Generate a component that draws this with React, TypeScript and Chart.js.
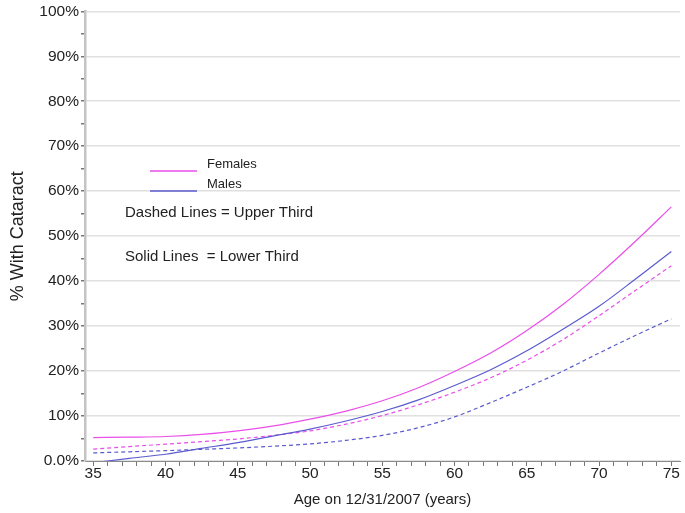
import React, { useEffect, useRef } from "react";
import { Chart, registerables } from "chart.js";

Chart.register(...registerables);

const ages = [35, 37.5, 40, 42.5, 45, 47.5, 50, 52.5, 55, 57.5, 60, 62.5, 65, 67.5, 70, 72.5, 75];
const femalesLower = [5.2, 5.3, 5.45, 5.9, 6.7, 7.8, 9.3, 11.1, 13.4, 16.3, 19.9, 24.0, 29.0, 34.8, 41.5, 48.8, 56.5];
const malesLower = [-0.4, 0.6, 1.5, 2.8, 4.1, 5.6, 7.1, 8.9, 11.0, 13.6, 16.8, 20.3, 24.5, 29.3, 34.4, 40.4, 46.6];
const femalesUpper = [2.65, 3.2, 3.75, 4.3, 4.9, 5.7, 6.7, 8.2, 10.1, 12.5, 15.3, 18.5, 22.4, 27.0, 32.3, 37.9, 43.4];
const malesUpper = [1.8, 2.05, 2.3, 2.6, 2.9, 3.3, 3.8, 4.6, 5.7, 7.4, 9.8, 13.0, 16.4, 20.0, 24.0, 27.9, 31.6];

const xFirstTick = 35;
const xLastTick = 75;
const xLabelEvery = 5;

const legendLabels = ["Females", "Males"];
const noteLines = ["Dashed Lines = Upper Third", "Solid Lines  = Lower Third"];
const xTitle = "Age on 12/31/2007 (years)";
const yTitle = "% With Cataract";

const FEMALE = "#e94fe9";
const MALE = "#5b5bcf";
const FONT = "'Liberation Sans', Arial, sans-serif";

const pts = (vals: number[]) => ages.map((a, i) => ({ x: a, y: vals[i] }));

const notesPlugin = {
  id: "notes",
  afterDatasetsDraw(chart: any) {
    const ctx = chart.ctx;
    ctx.save();
    ctx.lineWidth = 1.6;
    ctx.strokeStyle = FEMALE;
    ctx.beginPath();
    ctx.moveTo(150, 171);
    ctx.lineTo(197, 171);
    ctx.stroke();
    ctx.strokeStyle = MALE;
    ctx.beginPath();
    ctx.moveTo(150, 191);
    ctx.lineTo(197, 191);
    ctx.stroke();
    ctx.fillStyle = "#222";
    ctx.textBaseline = "middle";
    ctx.textAlign = "left";
    ctx.font = `13px ${FONT}`;
    ctx.fillText(legendLabels[0], 207, 164);
    ctx.fillText(legendLabels[1], 207, 184);
    ctx.font = `15px ${FONT}`;
    ctx.fillText(noteLines[0], 125, 213);
    ctx.fillText(noteLines[1], 125, 257);
    ctx.restore();
  },
};

export default function App() {
  const ref = useRef<HTMLCanvasElement>(null);
  useEffect(() => {
    if (!ref.current) return;
    const line = (vals: number[], color: string, dashed: boolean) => ({
      data: pts(vals),
      borderColor: color,
      backgroundColor: color,
      borderWidth: 1.2,
      borderDash: dashed ? [4, 3] : [],
      pointRadius: 0,
      fill: false,
      cubicInterpolationMode: "monotone" as const,
    });
    const chart = new Chart(ref.current, {
      type: "line",
      data: {
        datasets: [
          line(femalesLower, FEMALE, false),
          line(malesLower, MALE, false),
          line(femalesUpper, FEMALE, true),
          line(malesUpper, MALE, true),
        ],
      },
      options: {
        animation: false,
        responsive: false,
        layout: { padding: { top: 6, right: 5, left: 0, bottom: 0 } },
        plugins: { legend: { display: false }, tooltip: { enabled: false } },
        scales: {
          x: {
            type: "linear",
            min: 34.43,
            max: 75.6,
            afterFit: (s: any) => { s.height = 52; },
            afterBuildTicks: (s: any) => {
              const t: any[] = [];
              for (let v = xFirstTick; v <= xLastTick; v++) t.push({ value: v });
              s.ticks = t;
            },
            ticks: {
              stepSize: 1,
              autoSkip: false,
              maxRotation: 0,
              padding: -2,
              color: "#222",
              font: { family: FONT, size: 15.5 },
              callback: (v: any) => (Number(v) % xLabelEvery === 0 ? String(v) : ""),
            },
            grid: { drawOnChartArea: false, tickLength: 5, tickColor: "#777", color: "#777" },
            border: { color: "#8a8a8a", width: 1 },
            title: {
              display: true,
              text: xTitle,
              color: "#222",
              font: { family: FONT, size: 15 },
              padding: { top: 0, bottom: 4 },
            },
          },
          y: {
            min: 0,
            max: 100,
            afterFit: (s: any) => { s.width = 85; },
            ticks: {
              stepSize: 5,
              autoSkip: false,
              padding: 2,
              color: "#222",
              font: { family: FONT, size: 15.5 },
              callback: (v: any) => {
                const n = Number(v);
                if (n % 10 !== 0) return "";
                return n === 0 ? "0.0%" : `${n}%`;
              },
            },
            grid: {
              tickLength: 4,
              tickColor: "#777",
              lineWidth: 1.5,
              color: (c: any) => (c.tick && c.tick.value % 10 === 0 ? "#e0e0e0" : "rgba(0,0,0,0)"),
            },
            border: { color: "#c4c4c4", width: 2.5 },
            title: {
              display: true,
              text: yTitle,
              color: "#222",
              font: { family: FONT, size: 18 },
              padding: { top: 7, bottom: 0 },
            },
          },
        },
      },
      plugins: [notesPlugin],
    });
    return () => chart.destroy();
  }, []);
  return (
    <div style={{ position: "absolute", left: 0, top: 0, width: 685, height: 513, background: "#fff" }}>
      <canvas ref={ref} width={685} height={513} />
    </div>
  );
}
